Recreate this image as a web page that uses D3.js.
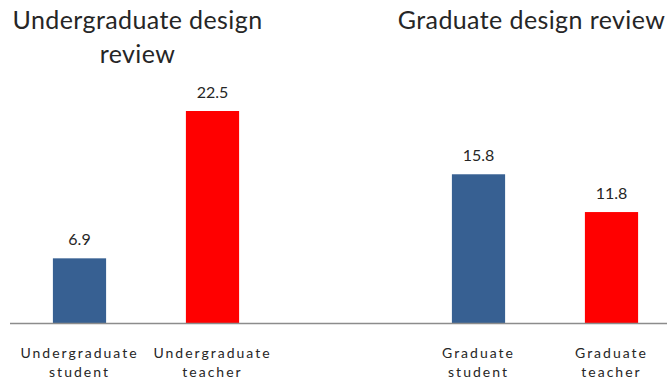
<!DOCTYPE html>
<html>
<head>
<meta charset="utf-8">
<script src="https://cdn.jsdelivr.net/npm/d3@7"></script>
<style>
  body { margin: 0; background: #fff; }
  svg { display: block; font-family: Lato, "Open Sans", sans-serif; }
</style>
</head>
<body>
<svg id="chart" width="667" height="383"></svg>
<script>
// data
var categories = ["Undergraduate student", "Undergraduate teacher", "", "Graduate student", "Graduate teacher"];
var values = [6.9, 22.5, null, 15.8, 11.8];
var barColors = ["#376092", "#ff0000", null, "#376092", "#ff0000"];
var titles = [["Undergraduate design", "review"], ["Graduate design review"]];

var svg = d3.select("#chart");
var baseY = 323.5;

var x = d3.scaleBand()
    .domain(categories.map(function (d, i) { return i; }))
    .range([13, 678])
    .paddingInner(0.6)
    .paddingOuter(0.3);

var y = d3.scaleLinear()
    .domain([0, 22.5])
    .range([baseY, 111]);

var bars = categories.map(function (c, i) {
    return { i: i, name: c, value: values[i], color: barColors[i] };
}).filter(function (d) { return d.value != null; });

svg.selectAll(".bar")
    .data(bars)
    .enter().append("rect")
    .attr("class", "bar")
    .attr("x", function (d) { return x(d.i); })
    .attr("width", x.bandwidth())
    .attr("y", function (d) { return y(d.value); })
    .attr("height", function (d) { return baseY - y(d.value); })
    .attr("fill", function (d) { return d.color; });

// value labels
svg.selectAll(".val")
    .data(bars)
    .enter().append("text")
    .attr("class", "val")
    .attr("x", function (d) { return x(d.i) + x.bandwidth() / 2; })
    .attr("y", function (d) { return y(d.value) - 13; })
    .attr("text-anchor", "middle")
    .attr("font-size", 16)
    .attr("fill", "#262626")
    .text(function (d) { return d.value.toFixed(1); });

// baseline
svg.append("line")
    .attr("x1", 10).attr("x2", 667)
    .attr("y1", baseY).attr("y2", baseY)
    .attr("stroke", "#8c8c8c")
    .attr("stroke-width", 1.5);

// category labels
var cat = svg.selectAll(".cat")
    .data(bars)
    .enter().append("text")
    .attr("class", "cat")
    .attr("text-anchor", "middle")
    .attr("font-size", 14)
    .attr("letter-spacing", 2)
    .attr("fill", "#262626");
cat.each(function (d) {
    var parts = d.name.split(" ");
    var cx = x(d.i) + x.bandwidth() / 2;
    d3.select(this).selectAll("tspan")
        .data(parts)
        .enter().append("tspan")
        .attr("x", cx)
        .attr("y", function (p, k) { return 358 + k * 19; })
        .text(function (p) { return p; });
});

// titles
var titleX = [137.5, 531.5];
titles.forEach(function (lines, t) {
    var tt = svg.append("text")
        .attr("text-anchor", "middle")
        .attr("font-size", 25)
        .attr("letter-spacing", 0.4)
        .attr("fill", "#262626");
    lines.forEach(function (l, k) {
        tt.append("tspan")
            .attr("x", titleX[t])
            .attr("y", 29 + k * 34)
            .text(l);
    });
});
</script>
</body>
</html>
